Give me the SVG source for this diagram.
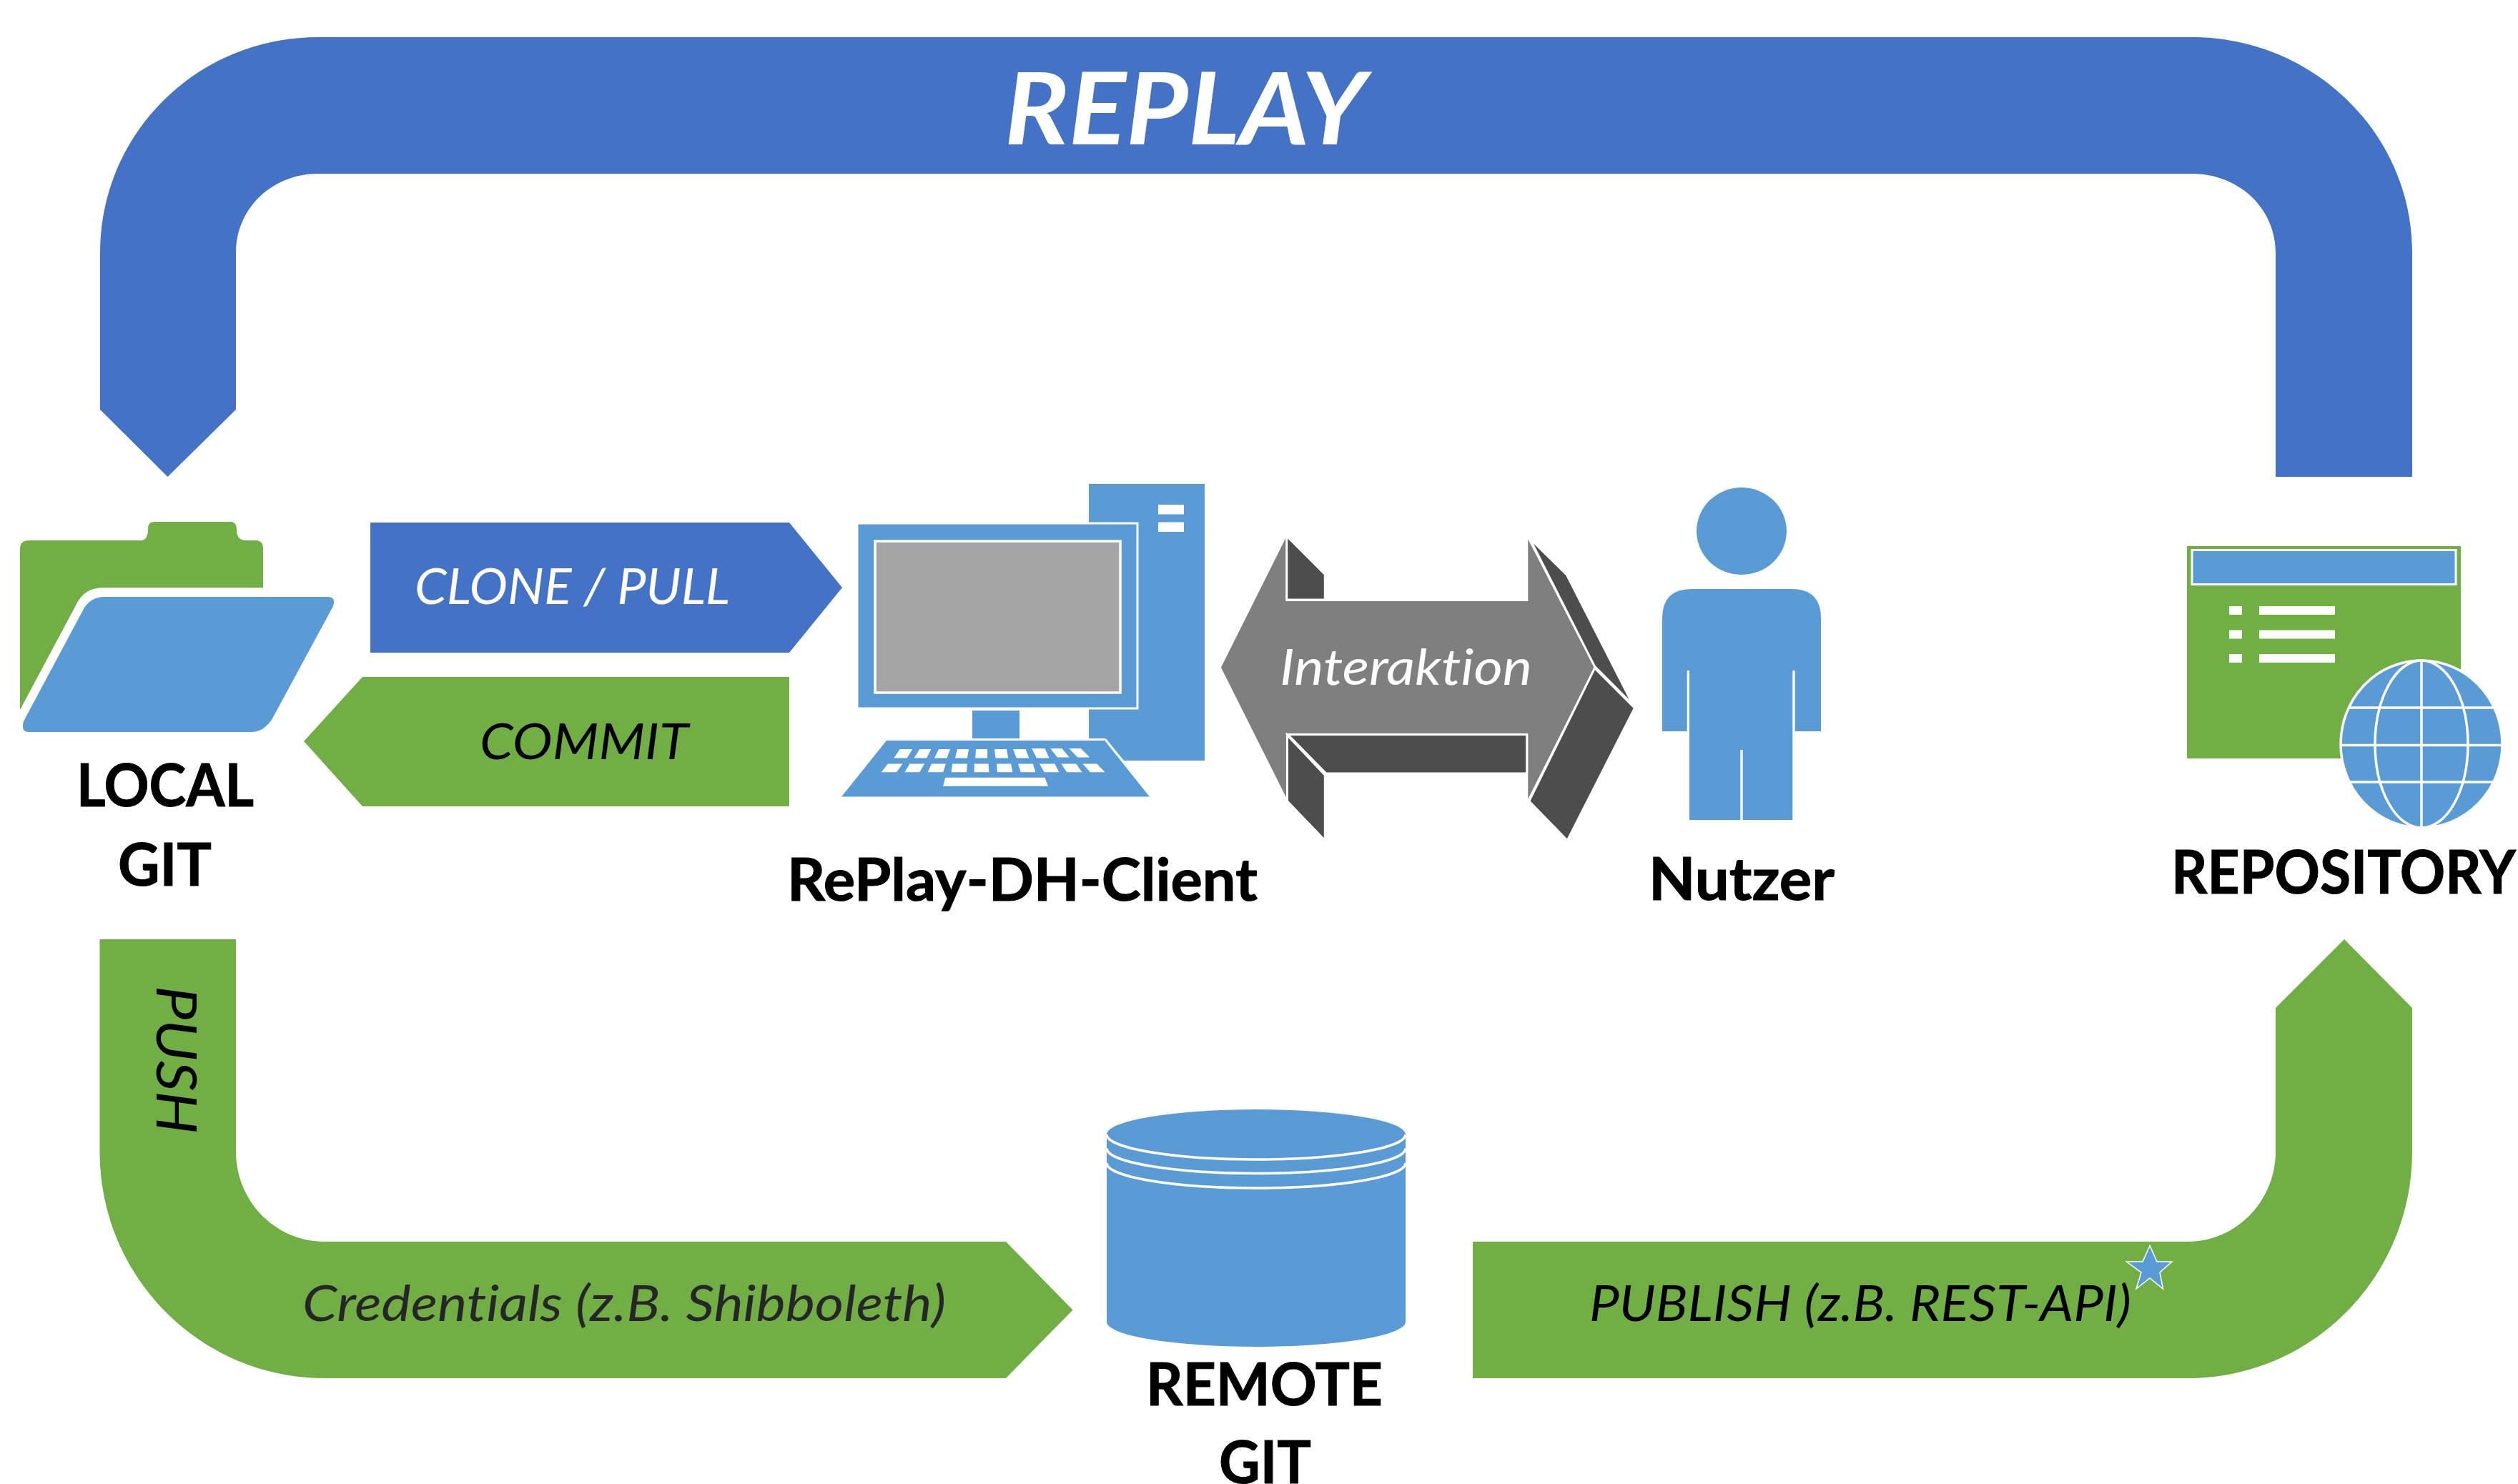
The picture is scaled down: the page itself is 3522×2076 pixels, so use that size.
<svg xmlns="http://www.w3.org/2000/svg" width="3522" height="2076" viewBox="0 0 3522 2076">
<style>
text{font-family:"Lato","Liberation Sans",sans-serif;font-variant-ligatures:none}
.t{font-weight:700;font-size:82px;fill:#000;stroke:#000;stroke-width:1}
.i{font-style:italic;font-weight:400;font-size:70px;fill:#000}
.l{font-style:italic;font-weight:400;font-size:70px;fill:#fff}
.blue{fill:#4472C4}.green{fill:#72AE46}.sky{fill:#5B9BD5}.w{fill:#fff}
.wl{fill:none;stroke:#fff;stroke-width:3.5}
.dark{fill:#4D4D4D;stroke:#fff;stroke-width:3;vector-effect:non-scaling-stroke}
</style>
<rect width="3522" height="2076" fill="#fff"/>
<g id="connectors">
<g id="replay-arrow">
<path class="blue" d="M140 573V354C140 186 276 52 445 52H3066C3235 52 3374 186 3374 354V667H3183V354C3183 290 3130 243 3066 243H445C382 243 330 290 330 354V573L234.500 667Z"/>
<text x="1405" y="202" font-size="140" font-weight="700" font-style="italic" fill="#fff" textLength="506" lengthAdjust="spacingAndGlyphs">REPLAY</text>
</g>
<g id="clone-arrow">
<polygon class="blue" points="518,731 1104,731 1178,822 1104,913 518,913"/>
<text class="l" x="580" y="845" textLength="441" lengthAdjust="spacingAndGlyphs">CLONE / PULL</text>
</g>
<g id="commit-arrow">
<polygon class="green" points="1104,947 507,947 425,1037 507,1128 1104,1128"/>
<text class="i" x="671" y="1062" textLength="292" lengthAdjust="spacingAndGlyphs">COMMIT</text>
</g>
<g id="push-arrow">
<path class="green" d="M139.500 1314H330V1611C330 1680 385 1737 454 1737H1407L1500.500 1832.500L1407 1928H454C280 1928 139.500 1786 139.500 1611Z"/>
<text class="i" transform="translate(219 1379) rotate(90)" style="font-size:78px" textLength="207" lengthAdjust="spacingAndGlyphs">PUSH</text>
<text class="i" x="423" y="1848" style="fill:#262626" textLength="900" lengthAdjust="spacingAndGlyphs">Credentials (z.B. Shibboleth)</text>
</g>
<g id="publish-arrow">
<path class="green" d="M3374 1410V1611C3374 1786 3234 1928 3060 1928H2060V1737H3060C3128 1737 3183 1680 3183 1611V1410L3279 1314Z"/>
<text class="i" x="2223" y="1848" textLength="758" lengthAdjust="spacingAndGlyphs">PUBLISH (z.B. REST-API)</text>
<polygon class="sky" stroke="#fff" stroke-width="1.500" points="3007,1742.500 3017,1765 3038,1765 3021,1780 3025.500,1803 3007,1788 2988,1803 2995,1780 2974.500,1765 2997,1765"/>
</g>
<g id="interaction-arrow">
<g transform="translate(1150 640) scale(.7653 .4464)">
<polygon fill="#7F7F7F" points="729,658 848,250 848,450 1290,450 1290,256 1411,658 1290,1070 1290,866 848,866 848,1065"/>
<polygon class="dark" points="849,246 919,366 919,446 849,446"/>
<polygon class="dark" points="1293,253 1361,368 1482,775 1412,655"/>
<polygon class="dark" points="1412,660 1485,785 1362,1200 1292,1077"/>
<polygon class="dark" points="851,868 1288,868 1288,990 921,990"/>
<polygon class="dark" points="850,870 919,995 919,1200 850,1077"/>
</g>
<text class="l" x="1790" y="958" textLength="353" lengthAdjust="spacingAndGlyphs">Interaktion</text>
</g>
</g>
<g id="local-git">
<path class="green" d="M28 993V768Q28 756 40 756H197Q207 756 207 740Q207 730 215 730H323Q331 730 331 742Q331 756 345 756H358Q368 756 368 768V822H145Q118 822 107 845Z"/>
<path class="sky" d="M146 835H459Q470 835 466 848L380 1007Q368 1024 352 1024H40Q29 1024 33 1009L118 850Q128 835 146 835Z"/>
<text class="t" x="107" y="1128" textLength="248" lengthAdjust="spacingAndGlyphs">LOCAL</text>
<text class="t" x="165" y="1239" textLength="131" lengthAdjust="spacingAndGlyphs">GIT</text>
</g>
<g id="replay-client">
<polygon class="sky" points="1523,677 1685,677 1685,1064 1572,1064 1546,1033 1523,1033"/>
<rect class="w" x="1620" y="706" width="36" height="13.500"/>
<rect class="w" x="1620" y="730.500" width="36" height="13.500"/>
<rect class="sky" x="1199" y="732" width="392" height="259" stroke="#fff" stroke-width="3"/>
<rect x="1224" y="757" width="343" height="212" fill="#A5A5A5" stroke="#fff" stroke-width="3.500"/>
<rect class="sky" x="1360" y="994" width="66" height="39"/>
<path class="sky" d="M1240 1036H1546L1609 1114.500H1177Z"/>
<path d="M1546 1034.500L1611 1116" fill="none" stroke="#fff" stroke-width="3"/>
<path d="M1240 1034.500H1546" fill="none" stroke="#fff" stroke-width="3"/>
<g class="w" transform="translate(1150 640) scale(.7653 .4464)">
<path d="M142 914H165L155 942H131ZM178 914H199L191 942H168ZM213 914H234L228 942H205ZM247 914H268L265 942H243ZM281 914H302V942H280ZM315 914H337L340 942H317ZM349 914H372L378 942H355ZM383 912H407L415 942H392ZM417 912H438L452 940H430ZM451 912H473L489 940H467Z"/>
<path d="M120 960H147L136 986H108ZM160 960H187L178 986H151ZM200 960H226L221 986H193ZM238 960H265L264 986H236ZM278 960H304L305 986H278ZM319 960H345L348 986H320ZM358 960H385L390 986H363ZM397 960H425L433 986H406ZM437 960H464L475 986H447ZM476 960H502L517 986H490Z"/>
<path d="M225 1003H407L413 1030H221Z"/>
</g>
<text class="t" x="1101" y="1260" textLength="658" lengthAdjust="spacingAndGlyphs">RePlay-DH-Client</text>
</g>
<g id="nutzer">
<ellipse class="sky" cx="2436" cy="743" rx="63" ry="61"/>
<path class="sky" d="M2325 1023V865Q2325 824 2366 824H2506Q2547 824 2547 865V1023H2510.700V938H2507.300V1147H2437.700V1049H2434.300V1147H2363V938H2359.700V1023Z"/>
<text class="t" x="2306" y="1259" textLength="260" lengthAdjust="spacingAndGlyphs">Nutzer</text>
</g>
<g id="repository">
<rect class="green" x="3059" y="764" width="383" height="297"/>
<rect class="sky" x="3066" y="769.500" width="369" height="48" stroke="#fff" stroke-width="3"/>
<path class="w" d="M3118 848h18v12h-18zM3118 881.500h18v12h-18zM3118 915h18v12h-18zM3160 848h106v12h-106zM3160 881.500h106v12h-106zM3160 915h106v12h-106z"/>
<ellipse class="sky" cx="3387" cy="1041" rx="113" ry="117"/>
<g class="wl">
<ellipse cx="3387" cy="1041" rx="113" ry="117"/>
<ellipse cx="3387" cy="1041" rx="65" ry="117"/>
<path d="M3387 924V1158M3285 990H3489M3274 1042.500H3500M3287 1094H3487"/>
</g>
<text class="t" x="3037" y="1250" textLength="482" lengthAdjust="spacingAndGlyphs" style="font-size:84px">REPOSITORY</text>
</g>
<g id="remote-git">
<path class="sky" d="M1548 1587A209 35 0 0 1 1966 1587V1849A209 35 0 0 1 1548 1849Z"/>
<path class="wl" d="M1548 1587A209 35 0 0 0 1966 1587M1548 1606.500A209 35 0 0 0 1966 1606.500M1548 1627A209 35 0 0 0 1966 1627"/>
<text class="t" x="1603" y="1966" textLength="331" lengthAdjust="spacingAndGlyphs">REMOTE</text>
<text class="t" x="1705" y="2075" textLength="129" lengthAdjust="spacingAndGlyphs">GIT</text>
</g>
</svg>
